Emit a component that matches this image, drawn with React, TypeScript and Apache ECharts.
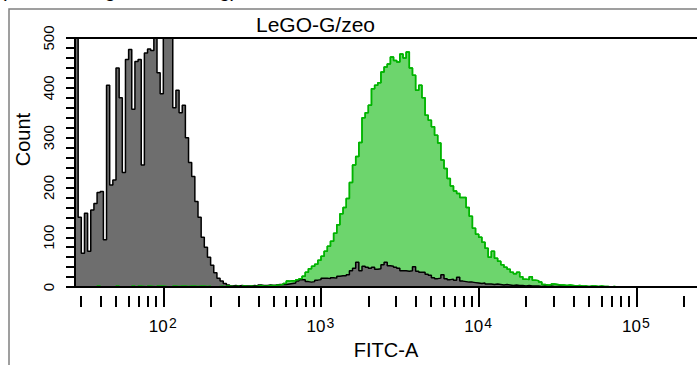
import React, { useEffect, useRef } from 'react';
import * as echarts from 'echarts';

// ---- data ----
const TITLE = 'LeGO-G/zeo';
const TOP_NOTE = '(unstained, green staining)';
const X_NAME = 'FITC-A';
const Y_NAME = 'Count';

// histogram binning in log10(FITC-A) units
const LOG_MIN = 1.44;
const LOG_MAX = 5.3843;
const BIN_WIDTH = 0.02;

const MAJOR_TICKS = [100, 1000, 10000, 100000];
const MINOR_TICKS = [
  30, 40, 50, 60, 70, 80, 90,
  200, 300, 400, 500, 600, 700, 800, 900,
  2000, 3000, 4000, 5000, 6000, 7000, 8000, 9000,
  20000, 30000, 40000, 50000, 60000, 70000, 80000, 90000,
  200000,
];
const Y_MAX = 500;
const Y_STEP = 20;
const Y_LABEL_STEP = 100;

// gray (control) histogram counts, one per bin
const GRAY_COUNTS = [
  600, 140, 68, 148, 72, 155, 168, 190, 192, 95,
  405, 205, 215, 440, 380, 230, 457, 477, 357, 453,
  457, 245, 470, 478, 475, 520, 430, 388, 530, 510,
  520, 360, 395, 350, 365, 300, 250, 222, 172, 140,
  100, 80, 60, 44, 29, 18, 12, 7, 4, 2,
  3, 2, 3, 2, 2, 2, 3, 2, 4, 3,
  3, 4, 3, 4, 5, 5, 5, 6, 7, 8,
  12, 15, 15, 11, 10, 11, 14, 15, 18, 18,
  17, 19, 18, 22, 23, 23, 25, 33, 38, 50,
  33, 42, 40, 38, 40, 36, 37, 45, 50, 43,
  42, 40, 38, 33, 33, 32, 33, 41, 32, 30,
  30, 26, 24, 19, 17, 18, 25, 17, 15, 16,
  14, 20, 12, 11, 10, 10, 9, 8, 7, 8,
  6, 6, 5, 6, 5, 4, 5, 4, 3, 4,
  3, 3, 2, 3, 2, 2, 2, 1, 2, 1,
  2, 1, 1, 2, 1, 1, 1, 0, 1, 1,
  0, 1, 0, 1, 0, 0,
];

// green (LeGO-G/zeo) histogram counts, one per bin
const GREEN_COUNTS = [
  0, 0, 0, 0, 0, 0, 0, 2, 0, 0,
  0, 0, 0, 2, 0, 0, 0, 0, 2, 0,
  2, 1, 0, 2, 1, 0, 2, 2, 1, 0,
  0, 2, 1, 2, 2, 1, 2, 2, 1, 2,
  2, 1, 2, 0, 0, 1, 2, 0, 2, 1,
  1, 2, 0, 2, 1, 2, 1, 2, 3, 2,
  2, 3, 3, 2, 4, 5, 7, 12, 13, 12,
  15, 17, 22, 30, 37, 42, 46, 54, 62, 72,
  82, 92, 108, 125, 147, 160, 178, 210, 245, 262,
  290, 340, 350, 365, 398, 405, 410, 432, 442, 448,
  462, 455, 452, 468, 460, 472, 440, 425, 395, 405,
  380, 345, 335, 322, 305, 289, 255, 238, 218, 203,
  193, 188, 180, 180, 160, 142, 118, 106, 100, 90,
  78, 60, 72, 58, 52, 45, 40, 36, 30, 27,
  30, 21, 16, 15, 21, 14, 13, 10, 5, 4,
  4, 6, 5, 4, 4, 3, 4, 3, 2, 3,
  2, 2, 1, 2, 2, 1, 2, 1, 1, 0,
  1, 0,
];

const FONT = 'Liberation Sans, Arial, Helvetica, sans-serif';

function toSteps(counts: number[]): number[][] {
  const pts = counts.map((c, i) => [LOG_MIN + i * BIN_WIDTH, c]);
  pts.push([LOG_MIN + counts.length * BIN_WIDTH, 0]);
  return pts;
}

export default function App() {
  const ref = useRef<HTMLDivElement>(null);

  useEffect(() => {
    if (!ref.current) return;
    const chart = echarts.init(ref.current, undefined, { renderer: 'svg' });
    const majorLogs = MAJOR_TICKS.map((v) => Math.log10(v));
    const minorLogs = MINOR_TICKS.map((v) => Math.log10(v));
    const grayData = toSteps(GRAY_COUNTS);
    const greenData = toSteps(GREEN_COUNTS);
    const gridBox = { left: 75, right: 0, top: 38, bottom: 69 };

    chart.setOption({
      animation: false,
      backgroundColor: '#fff',
      textStyle: { fontFamily: FONT },
      title: {
        text: TITLE,
        left: 256,
        top: 14,
        padding: 0,
        textStyle: { fontSize: 21, fontWeight: 'normal', color: '#000', fontFamily: FONT },
      },
      graphic: [
        {
          type: 'rect',
          shape: { x: 9, y: 9, width: 1000, height: 1000 },
          style: { fill: 'none', stroke: '#808080', lineWidth: 1.5 },
          z: -1,
          silent: true,
        },
        {
          type: 'text',
          x: 0,
          y: 0,
          style: {
            text: TOP_NOTE,
            font: `20px ${FONT}`,
            fill: '#000',
            verticalAlign: 'bottom',
          },
          silent: true,
        },
      ],
      grid: [
        { ...gridBox, containLabel: false },
        { ...gridBox, containLabel: false },
      ],
      xAxis: [
        {
          // main axis: line, decade ticks, mantissa "10" of labels, axis name
          type: 'value',
          gridIndex: 0,
          position: 'bottom',
          min: LOG_MIN,
          max: LOG_MAX,
          z: 5,
          axisLine: { show: true, lineStyle: { color: '#000', width: 2 } },
          axisTick: {
            show: true,
            customValues: majorLogs,
            length: 20,
            lineStyle: { color: '#000', width: 2 },
          },
          axisLabel: {
            show: true,
            customValues: majorLogs,
            margin: 31,
            fontSize: 17,
            color: '#000',
            fontFamily: FONT,
            padding: [0, 10, 0, 0],
            formatter: () => '10',
          },
          splitLine: { show: false },
          name: X_NAME,
          nameLocation: 'middle',
          nameGap: 50,
          nameTextStyle: { fontSize: 20, color: '#000', fontFamily: FONT },
        },
        {
          // minor ticks + exponent superscripts
          type: 'value',
          gridIndex: 1,
          position: 'bottom',
          min: LOG_MIN,
          max: LOG_MAX,
          z: 5,
          axisLine: { show: false },
          axisTick: {
            show: true,
            customValues: minorLogs,
            length: 11,
            lineStyle: { color: '#000', width: 2 },
          },
          axisLabel: {
            show: true,
            customValues: majorLogs,
            margin: 20,
            fontSize: 14,
            color: '#000',
            fontFamily: FONT,
            padding: [0, 0, 0, 19],
            formatter: (v: number) => String(Math.round(v)),
          },
          splitLine: { show: false },
        },
        {
          type: 'value',
          gridIndex: 0,
          position: 'top',
          min: LOG_MIN,
          max: LOG_MAX,
          z: 5,
          axisLine: { show: true, lineStyle: { color: '#000', width: 2 } },
          axisTick: { show: false },
          axisLabel: { show: false },
          splitLine: { show: false },
        },
      ],
      yAxis: [
        {
          type: 'value',
          gridIndex: 0,
          min: 0,
          max: Y_MAX,
          interval: Y_STEP,
          z: 5,
          axisLine: { show: true, lineStyle: { color: '#000', width: 2 } },
          axisTick: { show: true, length: 9, lineStyle: { color: '#000', width: 2 } },
          axisLabel: {
            show: true,
            rotate: 90,
            margin: 19,
            fontSize: 15,
            color: '#000',
            fontFamily: FONT,
            formatter: (v: number) => (v % Y_LABEL_STEP === 0 ? String(v) : ''),
          },
          splitLine: { show: false },
          name: Y_NAME,
          nameLocation: 'middle',
          nameGap: 41,
          nameTextStyle: { fontSize: 20, color: '#000', fontFamily: FONT, padding: [0, 0, 0, 46] },
        },
        { type: 'value', gridIndex: 1, min: 0, max: Y_MAX, show: false, splitLine: { show: false } },
      ],
      series: [
        {
          type: 'line',
          xAxisIndex: 0,
          yAxisIndex: 0,
          data: greenData,
          step: 'end',
          symbol: 'none',
          silent: true,
          lineStyle: { color: '#00b400', width: 1.5 },
          areaStyle: { color: '#6dd56d', opacity: 1 },
          z: 2,
        },
        {
          type: 'line',
          xAxisIndex: 0,
          yAxisIndex: 0,
          data: grayData,
          step: 'end',
          symbol: 'none',
          silent: true,
          lineStyle: { color: '#000', width: 1.5 },
          areaStyle: { color: '#6e6e6e', opacity: 1 },
          z: 3,
        },
        {
          type: 'line',
          xAxisIndex: 0,
          yAxisIndex: 0,
          data: greenData,
          step: 'end',
          symbol: 'none',
          silent: true,
          lineStyle: { color: '#00b400', width: 1.5 },
          z: 4,
        },
      ],
    });

    return () => {
      chart.dispose();
    };
  }, []);

  return (
    <div
      ref={ref}
      style={{ position: 'fixed', left: 0, top: 0, width: 697, height: 365, background: '#fff' }}
    />
  );
}
